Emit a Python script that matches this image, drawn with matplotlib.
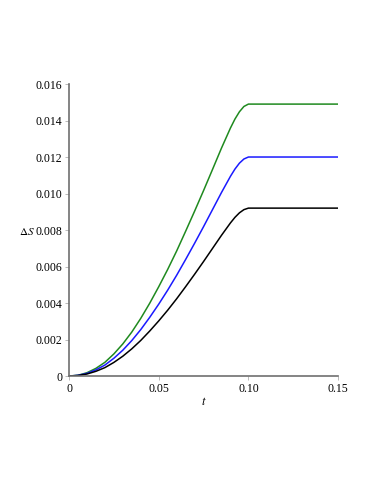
import numpy as np
import matplotlib.pyplot as plt

# values
t = [0, 0.005, 0.01, 0.015, 0.02, 0.025, 0.03, 0.035, 0.04, 0.045, 0.05, 0.055, 0.06,
     0.065, 0.07, 0.075, 0.08, 0.085, 0.09, 0.0925, 0.095, 0.0975, 0.1, 0.15]
ds_green = [0, 0.00004, 0.00018, 0.00042, 0.00075, 0.00121, 0.00176, 0.00241, 0.00316,
            0.00399, 0.00489, 0.00584, 0.00685, 0.00793, 0.00903, 0.01016, 0.01132,
            0.01249, 0.01359, 0.01408, 0.01448, 0.01477, 0.0149, 0.0149]
ds_blue = [0, 0.000036, 0.000144, 0.000336, 0.0006, 0.000972, 0.001416, 0.001944, 0.002544,
           0.003216, 0.003936, 0.004704, 0.00552, 0.006384, 0.007272, 0.008184, 0.00912,
           0.010056, 0.010944, 0.01134, 0.011664, 0.011892, 0.012, 0.012]
ds_black = [0, 0.000028, 0.00011, 0.000258, 0.00046, 0.000745, 0.001086, 0.00149, 0.00195,
            0.002466, 0.003018, 0.003606, 0.004232, 0.004894, 0.005575, 0.006274, 0.006992,
            0.00771, 0.00839, 0.008694, 0.008942, 0.009117, 0.0092, 0.0092]

xticks = [0, 0.05, 0.10, 0.15]
xlabels = ['0', '0.05', '0.10', '0.15']
yticks = [0, 0.002, 0.004, 0.006, 0.008, 0.010, 0.012, 0.014, 0.016]
ylabels = ['0', '0.002', '0.004', '0.006', '0.008', '0.010', '0.012', '0.014', '0.016']

plt.rcParams['font.family'] = ['Liberation Serif', 'DejaVu Serif']
plt.rcParams['mathtext.fontset'] = 'stix'

fig = plt.figure(figsize=(3.74, 4.84), dpi=100)
ax = fig.add_axes([0.1845, 0.2231, 0.7195, 0.6033])

ax.plot(t, ds_green, color='#1f8a1f', lw=1.1)
ax.plot(t, ds_blue, color='#1a1aff', lw=1.1)
ax.plot(t, ds_black, color='black', lw=1.1)

ax.set_xlim(0, 0.15)
ax.set_ylim(0, 0.016)
ax.set_xticks(xticks)
ax.set_xticklabels(xlabels)
ax.set_yticks(yticks)
ax.set_yticklabels(ylabels)

for s in ['top', 'right']:
    ax.spines[s].set_visible(False)
for s in ['left', 'bottom']:
    ax.spines[s].set_color('#707070')
    ax.spines[s].set_linewidth(1.2)
ax.tick_params(axis='both', length=3, width=0.6, color='#b0b0b0', labelsize=8.5, pad=2)

ax.set_xlabel('$t$', fontsize=9, labelpad=1)
fig.text(0.071, 0.521, r'$\Delta S$', fontsize=8, ha='center', va='center')

plt.savefig('out.png', dpi=100)
